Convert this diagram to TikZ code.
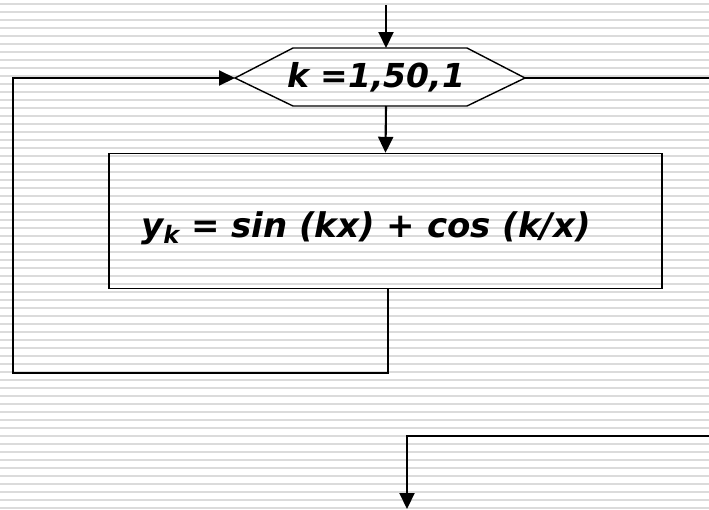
\documentclass[tikz,border=0pt]{standalone}
\usepackage{fontspec}
\setmainfont{DejaVu Sans}
\usetikzlibrary{arrows.meta}
\begin{document}
\begin{tikzpicture}[x=1pt,y=-1pt,
  conn/.style={line width=2.1pt},
  arr/.style={conn,-{Triangle[length=16pt,width=15pt]}},
  shapeline/.style={line width=1.4pt},
  lbl/.style={font=\fontsize{33}{36}\selectfont\bfseries\itshape, inner sep=0pt},
  flbl/.style={font=\fontsize{34}{38}\selectfont\bfseries\itshape, inner sep=0pt}]
\useasboundingbox (0,0) rectangle (709,509);
\fill[white] (0,0) rectangle (709,509);
\foreach \i in {0,...,63} \fill[black!14] (0,{3.1+8*\i}) rectangle (709,{4.5+8*\i});
% loop header (hexagon)
\coordinate (hexT) at (386,48);
\coordinate (hexB) at (386,106);
\coordinate (hexL) at (235,78);
\coordinate (hexR) at (525,78);
\draw[shapeline] (hexL) -- (293,48) -- (467,48) -- (hexR) -- (467,106) -- (293,106) -- cycle;
\node[lbl, anchor=base] (hex) at (376,87) {k =1,50,1};
% body box
\node[draw, shapeline, minimum width=553pt, minimum height=135pt, inner sep=0pt] (box) at (385.5,221) {};
\node[flbl, anchor=base] (formula) at (366,237) {y\raisebox{-6pt}{\fontsize{24}{26}\selectfont k} = sin (kx) + cos (k/x)};
% connectors
\coordinate (top) at (386,5);
\coordinate (loopA) at (388,373);
\coordinate (loopB) at (13,373);
\coordinate (rightEnd) at (709,78);
\coordinate (inR) at (709,436);
\coordinate (outB) at (407,509);
\draw[arr] (top) -- (hexT);
\draw[arr] (hexB) -- (box.north);
\draw[arr] (box.south -| loopA) -- (loopA) -- (loopB) |- (hexL);
\draw[conn] (hexR) -- (rightEnd);
\draw[arr] (inR) -| (outB);
\end{tikzpicture}
\end{document}
